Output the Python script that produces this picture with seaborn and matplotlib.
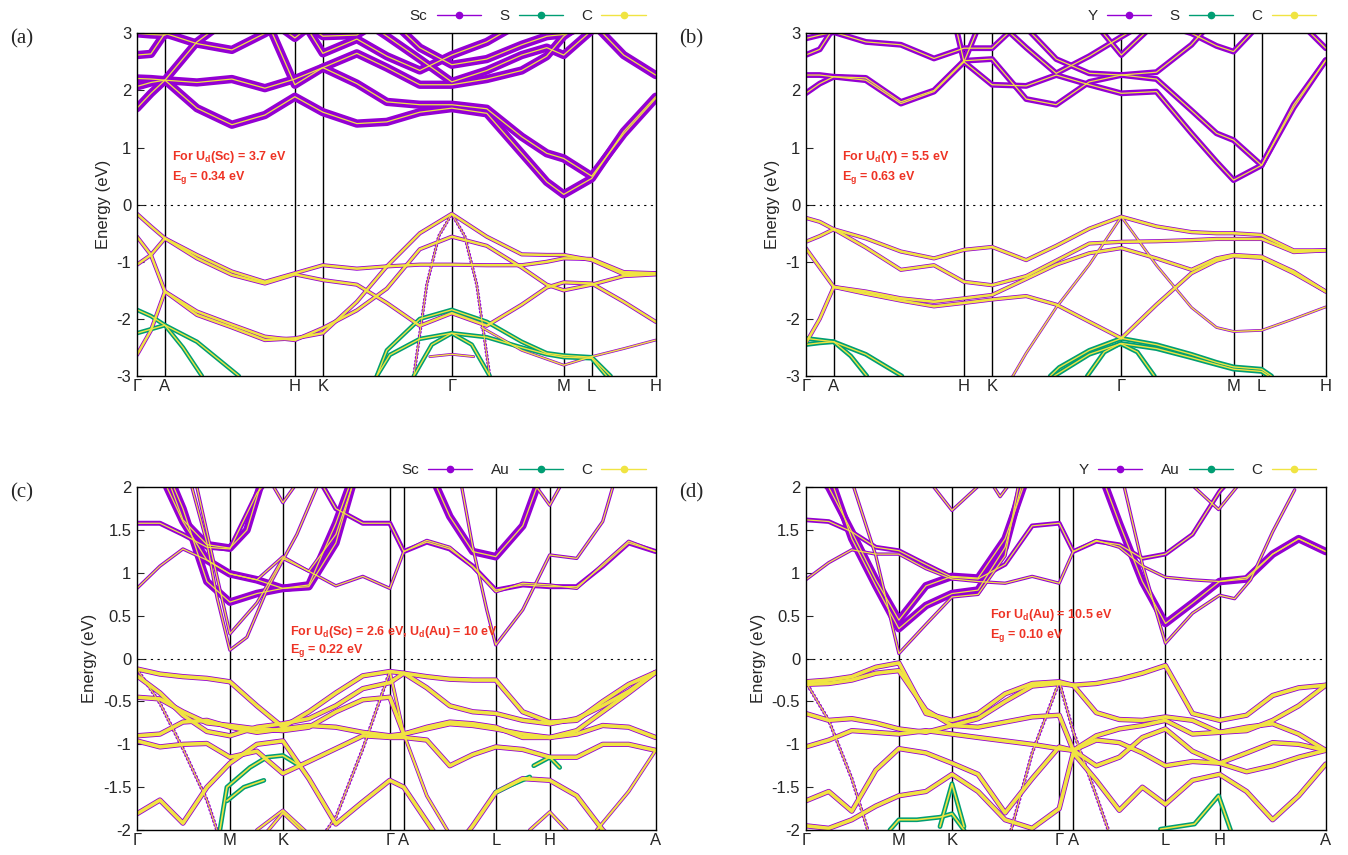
import pandas as pd
import matplotlib
matplotlib.use("Agg")
import matplotlib.pyplot as plt
from matplotlib.lines import Line2D
import seaborn as sns

# ── k-path grids (arbitrary path length units) ─────────────
KA = [0, 14, 28, 60, 95, 128, 158, 186, 220, 250, 283, 315, 350, 385, 410, 427, 455, 487, 519]
KC = [0, 23, 46, 70, 93, 120, 146, 172, 199, 226, 253, 267, 290, 313, 336, 359, 386, 413, 440, 466, 492, 519]
KP_AB = [0, 28, 158, 186, 315, 427, 455, 519]
KL_AB = ["Γ", "A", "H", "K", "Γ", "M", "L", "H"]
KP_CD = [0, 93, 146, 253, 267, 359, 413, 519]
KL_CD = ["Γ", "M", "K", "Γ", "A", "L", "H", "A"]

# ── panel (a): Sc / S / C ───────────────────────────────────
A_C1 = [1.69, 1.95, 2.18, 1.69, 1.40, 1.57, 1.89, 1.62, 1.42, 1.45, 1.62, 1.69, 1.60, 0.90, 0.40, 0.18, 0.46, 1.28, 1.89]
A_C2 = [2.07, 2.14, 2.18, 2.14, 2.20, 2.04, 2.20, 2.40, 2.12, 1.80, 1.75, 1.75, 1.68, 1.19, 0.90, 0.81, 0.50, 1.24, 1.86]
A_C3 = [2.21, 2.20, 2.18, 2.85, 3.3, 3.3, 2.92, 3.3, 3.3, 2.95, 2.55, 2.15, 2.35, 2.62, 2.75, 2.62, 3.05, 3.3, 3.3]
A_C4 = [2.62, 2.64, 3.0, 2.82, 2.71, 3.0, 3.3, 2.95, 2.97, 3.3, 2.75, 2.45, 2.55, 2.80, 2.95, 2.98, 3.2, 2.62, 2.27]
A_C5 = [3.0, 2.98, 2.97, 3.3, 3.3, 3.3, 2.10, 2.40, 2.65, 2.40, 2.10, 2.10, 2.20, 2.35, 2.60, 2.95, 3.3, 3.3, 3.3]
A_C6_K = [170, 186, 220, 250, 283, 315, 350, 375]
A_C6_E = [3.1, 2.65, 2.90, 2.60, 2.35, 2.62, 2.85, 3.1]
A_V1 = [-0.16, -0.38, -0.59, -0.88, -1.17, -1.35, -1.20, -1.06, -1.12, -1.08, -1.05, -1.05, -1.06, -1.06, -1.00, -0.94, -0.95, -1.18, -1.20]
A_V2 = [-1.05, -0.88, -0.59, -0.94, -1.23, -1.38, -1.22, -1.32, -1.40, -1.72, -2.12, -1.90, -2.12, -1.75, -1.45, -1.36, -1.38, -1.70, -2.05]
A_V3 = [-0.56, -0.88, -1.52, -1.87, -2.10, -2.31, -2.37, -2.16, -1.85, -1.47, -0.78, -0.56, -0.72, -1.10, -1.40, -1.50, -1.40, -1.25, -1.22]
A_V4 = [-2.63, -2.20, -1.52, -1.93, -2.15, -2.37, -2.34, -2.25, -1.70, -1.08, -0.50, -0.16, -0.56, -0.87, -0.88, -0.88, -0.97, -1.22, -1.20]
A_V5_K = [293, 315, 337]
A_V5_E = [-2.66, -2.62, -2.66]
A_V6_K = [345, 385, 427, 455, 487, 519]
A_V6_E = [-2.15, -2.55, -2.81, -2.66, -2.52, -2.37]
A_T1_K = [277, 290, 302, 315, 328, 340, 353]
A_T1_E = [-3.0, -1.40, -0.55, -0.16, -0.55, -1.40, -3.0]
A_G1L_K = [0, 14, 28, 46, 65]
A_G1L_E = [-1.84, -1.95, -2.11, -2.50, -3.0]
A_G2L_K = [0, 14, 28, 60, 102]
A_G2L_E = [-2.25, -2.18, -2.11, -2.40, -3.0]
A_G1R_K = [240, 250, 283, 315, 350, 385, 410, 427, 455, 474]
A_G1R_E = [-3.0, -2.55, -2.00, -1.84, -2.05, -2.40, -2.60, -2.64, -2.67, -3.0]
A_G2R_K = [240, 253, 283, 315, 350, 385, 410, 427, 455, 470]
A_G2R_E = [-3.0, -2.63, -2.35, -2.25, -2.32, -2.50, -2.62, -2.67, -2.69, -3.0]
A_G3_K = [277, 295, 315, 335, 353]
A_G3_E = [-3.0, -2.45, -2.25, -2.45, -3.0]

# ── panel (b): Y / S / C ────────────────────────────────────
B_C1 = [1.95, 2.12, 2.24, 2.18, 1.77, 1.98, 2.50, 2.10, 2.08, 2.27, 2.10, 1.95, 1.98, 1.25, 0.75, 0.43, 0.69, 1.70, 2.53]
B_C2 = [2.27, 2.27, 2.24, 2.22, 1.80, 2.00, 2.52, 2.55, 1.85, 1.75, 2.15, 2.27, 2.20, 1.65, 1.25, 1.13, 0.69, 1.75, 2.53]
B_C3 = [2.91, 2.97, 3.02, 2.85, 2.80, 2.56, 2.74, 2.74, 3.3, 3.3, 3.3, 2.62, 3.2, 3.0, 2.78, 2.68, 3.2, 3.3, 2.74]
B_C4 = [2.62, 2.72, 3.1, 3.3, 3.3, 3.3, 3.3, 3.3, 2.75, 2.30, 2.60, 2.94, 3.3, 3.3, 3.3, 3.3, 3.3, 3.3, 3.3]
B_C5_K = [150, 158, 172, 220, 250, 283, 315, 350, 385, 400]
B_C5_E = [3.1, 2.50, 3.1, 3.1, 2.55, 2.30, 2.27, 2.32, 2.80, 3.1]
B_V1 = [-0.23, -0.30, -0.43, -0.59, -0.82, -0.94, -0.79, -0.74, -0.97, -0.72, -0.42, -0.21, -0.38, -0.48, -0.50, -0.50, -0.53, -0.80, -0.80]
B_V2 = [-0.65, -0.55, -0.43, -0.75, -1.14, -1.06, -1.35, -1.41, -1.25, -0.98, -0.68, -0.65, -0.64, -0.62, -0.60, -0.60, -0.60, -0.83, -0.80]
B_V3 = [-0.76, -1.10, -1.44, -1.52, -1.64, -1.70, -1.64, -1.58, -1.30, -1.05, -0.85, -0.76, -0.94, -1.14, -0.94, -0.88, -0.91, -1.17, -1.52]
B_V4 = [-2.43, -2.00, -1.44, -1.56, -1.68, -1.78, -1.72, -1.66, -1.60, -1.75, -2.05, -2.34, -1.75, -1.20, -0.98, -0.90, -0.93, -1.20, -1.52]
B_V5_K = [205, 220, 250, 283, 315, 350, 385, 410, 427, 455, 487, 519]
B_V5_E = [-3.05, -2.60, -1.80, -1.05, -0.21, -1.06, -1.80, -2.15, -2.22, -2.20, -2.00, -1.79]
B_G1L_K = [0, 14, 28, 45, 61]
B_G1L_E = [-2.34, -2.37, -2.40, -2.65, -3.0]
B_G2L_K = [0, 14, 28, 60, 96]
B_G2L_E = [-2.45, -2.42, -2.40, -2.62, -3.0]
B_G1R_K = [244, 253, 283, 315, 350, 385, 410, 427, 455, 465]
B_G1R_E = [-3.0, -2.85, -2.55, -2.34, -2.45, -2.62, -2.76, -2.84, -2.88, -3.0]
B_G2R_K = [248, 283, 315, 350, 385, 410, 427, 455, 462]
B_G2R_E = [-3.0, -2.62, -2.43, -2.52, -2.68, -2.80, -2.88, -2.92, -3.0]
B_G3_K = [281, 298, 314, 331, 348]
B_G3_E = [-3.0, -2.58, -2.43, -2.58, -3.0]

# ── panel (c): Sc / Au / C ──────────────────────────────────
C_C1 = [1.58, 1.58, 1.45, 1.30, 1.28, 1.93, 2.3, 2.3, 1.75, 1.58, 1.58, 1.25, 1.36, 1.28, 1.08, 0.80, 0.86, 0.84, 0.84, 1.08, 1.35, 1.25]
C_C2 = [0.82, 1.08, 1.28, 1.15, 0.99, 0.92, 1.19, 1.02, 0.85, 0.96, 0.82, 1.25, 1.38, 1.30, 1.07, 0.78, 0.88, 0.86, 0.82, 1.10, 1.37, 1.25]
C_C3_K = [30, 46, 70, 93, 120, 146, 172, 199, 212]
C_C3_E = [2.0, 1.60, 1.15, 0.99, 0.92, 0.82, 0.86, 1.58, 2.0]
C_C4_K = [37, 46, 70, 93, 120, 146, 172, 199, 215]
C_C4_E = [2.0, 1.75, 0.90, 0.66, 0.76, 0.82, 0.84, 1.35, 2.0]
C_C5_K = [60, 70, 93, 120, 146, 172, 199, 215]
C_C5_E = [2.0, 1.48, 0.29, 0.65, 1.17, 1.02, 1.45, 2.0]
C_C6_K = [55, 70, 80, 93, 110, 130, 146, 160, 180]
C_C6_E = [2.0, 1.35, 0.72, 0.10, 0.25, 0.80, 1.15, 1.45, 2.0]
C_C7_K = [137, 146, 157]
C_C7_E = [2.0, 1.82, 2.0]
C_C8_K = [300, 313, 336, 359, 386, 400]
C_C8_E = [2.0, 1.66, 1.25, 1.19, 1.55, 2.0]
C_C9_K = [400, 413, 423]
C_C9_E = [2.0, 1.79, 2.0]
C_C10_K = [34, 46, 70, 93, 110, 123]
C_C10_E = [2.0, 1.62, 1.33, 1.29, 1.50, 2.0]
C_T1_K = [325, 336, 350, 359, 386, 413, 440, 466, 476]
C_T1_E = [2.0, 1.30, 0.57, 0.16, 0.57, 1.21, 1.17, 1.60, 2.0]
C_V1 = [-0.12, -0.18, -0.21, -0.23, -0.27, -0.55, -0.80, -0.62, -0.40, -0.20, -0.15, -0.17, -0.21, -0.24, -0.25, -0.25, -0.62, -0.74, -0.72, -0.50, -0.30, -0.16]
C_V2 = [-0.20, -0.40, -0.66, -0.85, -0.90, -0.80, -0.76, -0.70, -0.55, -0.35, -0.28, -0.17, -0.34, -0.55, -0.62, -0.64, -0.72, -0.76, -0.70, -0.55, -0.38, -0.16]
C_V3 = [-0.45, -0.47, -0.62, -0.75, -0.78, -0.82, -0.84, -0.80, -0.62, -0.48, -0.45, -0.88, -0.82, -0.76, -0.78, -0.82, -0.88, -0.92, -0.88, -0.78, -0.80, -0.92]
C_V4 = [-0.90, -0.88, -0.74, -0.72, -0.80, -0.86, -0.82, -0.78, -0.80, -0.86, -0.90, -0.88, -0.80, -0.74, -0.76, -0.80, -0.92, -0.92, -0.84, -0.62, -0.40, -0.16]
C_V5 = [-0.96, -1.03, -1.00, -0.99, -1.15, -1.08, -1.34, -1.20, -1.05, -0.90, -0.92, -0.92, -0.95, -1.25, -1.12, -1.03, -1.06, -1.15, -1.15, -1.00, -1.00, -1.07]
C_V6 = [-1.81, -1.65, -1.92, -1.50, -1.22, -1.00, -0.96, -1.40, -1.93, -1.67, -1.42, -1.50, -1.90, -2.3, -1.95, -1.56, -1.40, -1.42, -1.60, -2.0, -2.3, -2.3]
C_V7A_K = [0, 23, 46, 70, 80]
C_V7A_E = [-0.12, -0.52, -1.05, -1.65, -2.0]
C_V7B_K = [190, 199, 226, 253]
C_V7B_E = [-2.0, -1.85, -1.05, -0.15]
C_V7C_K = [253, 267, 290, 313]
C_V7C_E = [-0.15, -0.88, -1.60, -2.05]
C_V8_K = [120, 146, 172]
C_V8_E = [-2.0, -1.77, -2.05]
C_V9_K = [128, 146, 164]
C_V9_E = [-2.05, -1.80, -2.0]
C_V10_K = [393, 413, 430]
C_V10_E = [-2.0, -1.79, -2.0]
C_V11_K = [460, 492, 519]
C_V11_E = [-2.0, -1.55, -1.07]
C_G1_K = [83, 90, 113, 130, 146, 160]
C_G1_E = [-2.0, -1.50, -1.27, -1.15, -1.13, -1.23]
C_G2_K = [90, 107, 127]
C_G2_E = [-1.66, -1.50, -1.42]
C_G3_K = [359, 373, 393]
C_G3_E = [-1.56, -1.48, -1.38]
C_G4_K = [397, 413, 423]
C_G4_E = [-1.25, -1.15, -1.27]

# ── panel (d): Y / Au / C ───────────────────────────────────
D_C1 = [1.62, 1.60, 1.48, 1.30, 1.26, 1.10, 0.95, 0.93, 1.10, 1.55, 1.58, 1.25, 1.37, 1.33, 1.17, 1.22, 1.45, 1.95, 2.3, 2.3, 2.3, 2.3]
D_C2 = [0.92, 1.12, 1.27, 1.22, 1.22, 1.05, 0.93, 0.90, 0.88, 0.96, 0.88, 1.25, 1.38, 1.30, 1.08, 0.95, 0.92, 0.90, 0.95, 1.22, 1.40, 1.25]
D_C3 = [2.3, 2.0, 1.48, 0.92, 0.45, 0.85, 0.96, 0.94, 1.40, 2.3, 2.3, 2.3, 2.3, 1.58, 0.90, 0.41, 0.65, 0.90, 0.93, 1.22, 1.40, 1.25]
D_C4_K = [28, 46, 70, 93, 120, 146, 172, 199, 215]
D_C4_E = [2.0, 1.40, 0.85, 0.35, 0.62, 0.76, 0.80, 1.30, 2.0]
D_C5L_K = [48, 70, 93, 120, 146, 172, 199, 212]
D_C5L_E = [2.0, 1.20, 0.06, 0.40, 0.72, 0.75, 1.20, 2.0]
D_C5R_K = [318, 336, 359, 386, 413, 428, 444, 466, 488]
D_C5R_E = [2.0, 1.10, 0.18, 0.53, 0.74, 0.70, 0.92, 1.48, 1.97]
D_C6_K = [128, 146, 171]
D_C6_E = [2.0, 1.73, 2.0]
D_C7_K = [188, 194, 201]
D_C7_E = [2.0, 1.89, 2.0]
D_C8_K = [388, 412, 430]
D_C8_E = [2.0, 1.74, 2.0]
D_V1 = [-0.27, -0.25, -0.21, -0.10, -0.05, -0.64, -0.72, -0.64, -0.41, -0.29, -0.27, -0.31, -0.29, -0.24, -0.17, -0.08, -0.64, -0.72, -0.66, -0.43, -0.34, -0.31]
D_V2 = [-0.30, -0.29, -0.25, -0.17, -0.14, -0.60, -0.78, -0.70, -0.50, -0.32, -0.29, -0.31, -0.63, -0.71, -0.72, -0.68, -0.72, -0.86, -0.84, -0.72, -0.55, -0.31]
D_V3 = [-0.64, -0.72, -0.70, -0.75, -0.82, -0.86, -0.78, -0.80, -0.74, -0.68, -0.66, -1.07, -0.90, -0.82, -0.78, -0.72, -0.88, -0.86, -0.80, -0.76, -0.88, -1.07]
D_V4 = [-1.03, -0.95, -0.84, -0.86, -0.88, -0.84, -0.88, -0.92, -0.96, -1.00, -1.05, -1.07, -1.25, -1.15, -0.92, -0.82, -1.08, -1.22, -1.10, -0.98, -1.00, -1.07]
D_V5 = [-1.66, -1.55, -1.78, -1.30, -1.05, -1.10, -1.22, -1.35, -1.80, -1.40, -1.03, -1.07, -0.95, -0.98, -1.10, -1.25, -1.20, -1.22, -1.32, -1.25, -1.15, -1.07]
D_V6 = [-1.95, -1.98, -1.88, -1.72, -1.60, -1.55, -1.35, -1.55, -1.88, -1.98, -1.75, -1.10, -1.42, -1.77, -1.50, -1.70, -1.42, -1.35, -1.55, -1.88, -1.60, -1.23]
D_V7A_K = [0, 23, 46, 62]
D_V7A_E = [-0.27, -0.72, -1.40, -2.0]
D_V7B_K = [205, 226, 253, 267, 290, 302]
D_V7B_E = [-2.0, -1.10, -0.27, -0.85, -1.60, -2.0]
D_G1_K = [84, 93, 111, 134, 146, 158]
D_G1_E = [-2.0, -1.88, -1.88, -1.85, -1.81, -2.0]
D_G2_K = [134, 146, 158]
D_G2_E = [-1.96, -1.46, -1.96]
D_G3_K = [354, 388, 412, 424]
D_G3_E = [-1.99, -1.93, -1.60, -2.0]

# ── styling ─────────────────────────────────────────────────
PURPLE = "#9400D3"
GREEN = "#009E73"
YELLOW = "#F0E442"
RED = "#EE3224"

sns.set_theme(style="white")
plt.rcParams["font.family"] = ["Liberation Sans", "DejaVu Sans"]
plt.rcParams["axes.unicode_minus"] = False
plt.rcParams["mathtext.fontset"] = "custom"
plt.rcParams["mathtext.rm"] = "Liberation Sans"
plt.rcParams["mathtext.bf"] = "Liberation Sans:bold"


def to_frame(bands):
    parts = [pd.DataFrame({"k": k, "E": e, "band": i}) for i, (k, e) in enumerate(bands)]
    return pd.concat(parts, ignore_index=True)


def draw_panel(ax, groups):
    # groups: (outer colour, outer lw, inner lw, dotted, bands)
    # all purple outlines first, then green ones, then every yellow core on top
    order = sorted(groups, key=lambda g: g[0] == GREEN)
    for col, lw_out, lw_in, dotted, bands in order:
        df = to_frame(bands)
        kw = dict(ls=(0, (0.15, 0.95)), dash_capstyle="round") if dotted else \
            dict(solid_capstyle="round", solid_joinstyle="round")
        sns.lineplot(data=df, x="k", y="E", units="band", estimator=None, sort=False,
                     color=col, lw=lw_out, ax=ax, legend=False, **kw)
    for col, lw_out, lw_in, dotted, bands in order:
        df = to_frame(bands)
        sns.lineplot(data=df, x="k", y="E", units="band", estimator=None, sort=False,
                     color=YELLOW, lw=lw_in, ax=ax, legend=False,
                     solid_capstyle="round", solid_joinstyle="round")


def frame_axes(ax, kpos, klab, ylim, yticks, species, label, note1, note2, note_xy):
    for kx in kpos[1:-1]:
        ax.axvline(kx, color="black", lw=1.0, zorder=0.5)
    ax.axhline(0, color="black", lw=0.8, ls=(0, (2, 4)), zorder=0.6)
    ax.set_xlim(0, 519)
    ax.set_ylim(*ylim)
    ax.set_xticks(kpos)
    ax.set_xticklabels(klab, fontsize=12)
    ax.set_yticks(yticks)
    ax.set_yticklabels([f"{v:g}" for v in yticks], fontsize=12)
    ax.tick_params(axis="x", length=0, pad=2)
    ax.tick_params(axis="y", direction="in", length=5, width=0.8, left=True, right=False, pad=4)
    ax.set_xlabel("")
    ax.set_ylabel("Energy (eV)", fontsize=12, labelpad=4)
    for s in ax.spines.values():
        s.set_color("black")
        s.set_linewidth(1.0)
    handles = [Line2D([], [], color=c, lw=1.0, marker="o", markersize=4.5)
               for c in (PURPLE, GREEN, YELLOW)]
    ax.legend(handles, species, loc="lower right", bbox_to_anchor=(1.0, 1.0), ncol=3,
              frameon=False, markerfirst=False, handlelength=2.9, handletextpad=0.6,
              columnspacing=1.2, fontsize=11, borderaxespad=0.25, numpoints=1)
    x0, y1, y2 = note_xy
    ax.text(x0, y1, note1, color=RED, fontsize=9, fontweight="bold", va="center", ha="left")
    ax.text(x0, y2, note2, color=RED, fontsize=9, fontweight="bold", va="center", ha="left")
    ax.figure.text(ax.get_position().x0 - 0.094, ax.get_position().y1 - 0.006, label,
                   fontsize=15, family="Liberation Serif", va="center", ha="left")


fig = plt.figure(figsize=(13.48, 8.55), dpi=100)
ax_a = fig.add_axes([0.1016, 0.5602, 0.3848, 0.4008])
ax_b = fig.add_axes([0.5977, 0.5602, 0.3858, 0.4008])
ax_c = fig.add_axes([0.1016, 0.0292, 0.3848, 0.4009])
ax_d = fig.add_axes([0.5977, 0.0292, 0.3858, 0.4009])

# ── panel (a) ───────────────────────────────────────────────
draw_panel(ax_a, [
    (PURPLE, 6.0, 0.9, False, [(KA, A_C1), (KA, A_C2), (KA, A_C3), (KA, A_C4), (KA, A_C5), (A_C6_K, A_C6_E)]),
    (PURPLE, 3.0, 1.8, False, [(KA, A_V1), (KA, A_V2), (KA, A_V3), (KA, A_V4)]),
    (PURPLE, 2.0, 1.0, False, [(A_V5_K, A_V5_E), (A_V6_K, A_V6_E)]),
    (PURPLE, 2.4, 0.7, True, [(A_T1_K, A_T1_E)]),
    (GREEN, 3.2, 1.0, False, [(A_G1L_K, A_G1L_E), (A_G2L_K, A_G2L_E), (A_G1R_K, A_G1R_E),
                              (A_G2R_K, A_G2R_E), (A_G3_K, A_G3_E)]),
])
frame_axes(ax_a, KP_AB, KL_AB, (-3, 3), [-3, -2, -1, 0, 1, 2, 3], ["Sc", "S", "C"], "(a)",
           r"For U$_\mathbf{d}$(Sc) = 3.7 eV", r"E$_\mathbf{g}$ = 0.34 eV", (35, 0.84, 0.47))

# ── panel (b) ───────────────────────────────────────────────
draw_panel(ax_b, [
    (PURPLE, 4.2, 0.9, False, [(KA, B_C1), (KA, B_C2), (KA, B_C3), (KA, B_C4), (B_C5_K, B_C5_E)]),
    (PURPLE, 3.0, 1.9, False, [(KA, B_V1), (KA, B_V2), (KA, B_V3), (KA, B_V4)]),
    (PURPLE, 2.0, 1.0, False, [(B_V5_K, B_V5_E)]),
    (GREEN, 3.4, 1.0, False, [(B_G1L_K, B_G1L_E), (B_G2L_K, B_G2L_E), (B_G1R_K, B_G1R_E),
                              (B_G2R_K, B_G2R_E), (B_G3_K, B_G3_E)]),
])
frame_axes(ax_b, KP_AB, KL_AB, (-3, 3), [-3, -2, -1, 0, 1, 2, 3], ["Y", "S", "C"], "(b)",
           r"For U$_\mathbf{d}$(Y) = 5.5 eV", r"E$_\mathbf{g}$ = 0.63 eV", (36, 0.84, 0.47))

# ── panel (c) ───────────────────────────────────────────────
draw_panel(ax_c, [
    (PURPLE, 5.5, 0.9, False, [(C_C3_K, C_C3_E), (C_C4_K, C_C4_E), (C_C8_K, C_C8_E), (C_C10_K, C_C10_E)]),
    (PURPLE, 3.6, 0.9, False, [(KC, C_C1)]),
    (PURPLE, 2.4, 0.9, False, [(KC, C_C2), (C_C5_K, C_C5_E), (C_C6_K, C_C6_E), (C_C7_K, C_C7_E),
                               (C_C9_K, C_C9_E), (C_T1_K, C_T1_E)]),
    (PURPLE, 3.8, 2.6, False, [(KC, C_V1), (KC, C_V2), (KC, C_V3), (KC, C_V4), (KC, C_V5), (KC, C_V6)]),
    (PURPLE, 2.6, 1.5, False, [(C_V7C_K, C_V7C_E), (C_V8_K, C_V8_E),
                               (C_V9_K, C_V9_E), (C_V10_K, C_V10_E), (C_V11_K, C_V11_E)]),
    (PURPLE, 2.6, 0.8, True, [(C_V7A_K, C_V7A_E), (C_V7B_K, C_V7B_E)]),
    (GREEN, 3.4, 1.2, False, [(C_G1_K, C_G1_E), (C_G2_K, C_G2_E), (C_G3_K, C_G3_E), (C_G4_K, C_G4_E)]),
])
frame_axes(ax_c, KP_CD, KL_CD, (-2, 2), [-2, -1.5, -1, -0.5, 0, 0.5, 1, 1.5, 2], ["Sc", "Au", "C"], "(c)",
           r"For U$_\mathbf{d}$(Sc) = 2.6 eV, U$_\mathbf{d}$(Au) = 10 eV", r"E$_\mathbf{g}$ = 0.22 eV",
           (153, 0.31, 0.10))

# ── panel (d) ───────────────────────────────────────────────
draw_panel(ax_d, [
    (PURPLE, 5.5, 0.9, False, [(KC, D_C3), (D_C4_K, D_C4_E)]),
    (PURPLE, 3.4, 0.9, False, [(KC, D_C1)]),
    (PURPLE, 2.4, 0.9, False, [(KC, D_C2), (D_C5L_K, D_C5L_E), (D_C5R_K, D_C5R_E), (D_C6_K, D_C6_E),
                               (D_C7_K, D_C7_E), (D_C8_K, D_C8_E)]),
    (PURPLE, 3.8, 2.6, False, [(KC, D_V1), (KC, D_V2), (KC, D_V3), (KC, D_V4), (KC, D_V5), (KC, D_V6)]),
    (PURPLE, 2.6, 0.8, True, [(D_V7A_K, D_V7A_E), (D_V7B_K, D_V7B_E)]),
    (GREEN, 3.4, 1.2, False, [(D_G1_K, D_G1_E), (D_G2_K, D_G2_E), (D_G3_K, D_G3_E)]),
])
frame_axes(ax_d, KP_CD, KL_CD, (-2, 2), [-2, -1.5, -1, -0.5, 0, 0.5, 1, 1.5, 2], ["Y", "Au", "C"], "(d)",
           r"For U$_\mathbf{d}$(Au) = 10.5 eV", r"E$_\mathbf{g}$ = 0.10 eV", (184, 0.51, 0.27))

fig.savefig("out.png", dpi=100)
